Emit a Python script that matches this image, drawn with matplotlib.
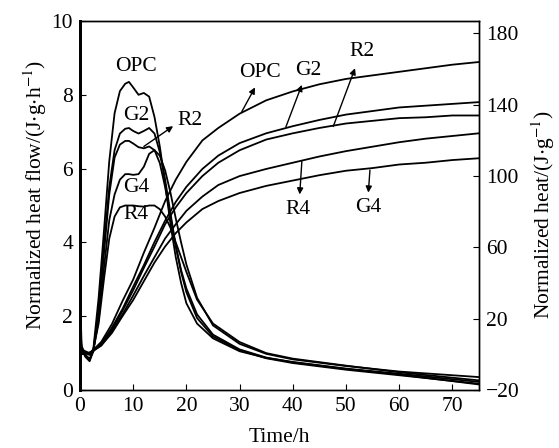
import matplotlib
matplotlib.use("Agg")
import matplotlib.pyplot as plt

plt.rcParams['font.family'] = ['Liberation Serif', 'DejaVu Serif']
plt.rcParams['mathtext.fontset'] = 'stix'

# heat flow, J/(g.h)  (left axis)
t_flow = [0, 0.3, 1, 1.8, 2.5, 3.5, 4.5, 5.5, 6.5, 7.5, 8.5, 9.2, 10, 11, 12, 13, 14,
          15, 16, 17, 18, 19, 20, 22, 25, 30, 35, 40, 50, 60, 75]
opc_flow = [2.7, 1.2, 0.95, 0.8, 1.1, 2.5, 4.3, 6.2, 7.5, 8.1, 8.3, 8.35, 8.2, 8.0, 8.05, 7.95, 7.4,
            6.6, 5.6, 4.5, 3.6, 2.9, 2.35, 1.8, 1.4, 1.05, 0.87, 0.76, 0.58, 0.44, 0.22]
g2_flow = [2.0, 1.1, 0.9, 0.78, 1.05, 2.2, 3.9, 5.5, 6.5, 6.95, 7.08, 7.1, 7.02, 6.95, 7.02, 7.1, 6.95,
           6.45, 5.7, 4.8, 3.9, 3.2, 2.65, 1.95, 1.45, 1.08, 0.86, 0.73, 0.55, 0.4, 0.17]
r2_flow = [1.8, 1.1, 0.95, 0.85, 1.05, 2.1, 3.7, 5.3, 6.3, 6.65, 6.75, 6.75, 6.68, 6.58, 6.55, 6.6, 6.5,
           6.15, 5.5, 4.7, 3.9, 3.25, 2.75, 2.05, 1.5, 1.1, 0.88, 0.75, 0.57, 0.42, 0.15]
g4_flow = [1.6, 1.1, 1.0, 0.95, 1.05, 1.9, 3.3, 4.6, 5.3, 5.7, 5.85, 5.85, 5.83, 5.85, 6.05, 6.4, 6.5,
           6.35, 5.95, 5.35, 4.65, 4.0, 3.4, 2.5, 1.75, 1.25, 0.98, 0.83, 0.65, 0.5, 0.35]
r4_flow = [1.5, 1.1, 1.05, 1.0, 1.1, 1.8, 3.0, 4.1, 4.7, 4.95, 5.0, 5.0, 5.0, 4.98, 4.97, 5.0, 5.0,
           4.9, 4.7, 4.4, 4.0, 3.6, 3.2, 2.45, 1.8, 1.3, 1.0, 0.85, 0.66, 0.48, 0.26]

# cumulative heat, J/g  (right axis)
t_heat = [0, 2, 4, 6, 8, 10, 12, 14, 16, 18, 20, 23, 26, 30, 35, 40, 45, 50, 55, 60, 65, 70, 75]
opc_heat = [0, 1, 7, 17, 30, 42, 57, 71, 86, 98, 108, 120, 127, 135, 142.5, 147.5, 151.5, 154.5,
            156.5, 158.5, 160.5, 162.5, 164]
g2_heat = [0, 1, 6, 15, 25.5, 38, 50, 63, 75, 85.5, 94, 104, 111.5, 118.5, 124, 128, 131.5, 134.5,
           136.5, 138.5, 139.5, 140.5, 141.5]
r2_heat = [0, 1, 6, 14, 24.5, 36, 48.5, 60.5, 73, 82.5, 90.5, 100, 107.5, 114.5, 120.5, 124, 127,
           129.5, 131, 132.5, 133, 134, 134]
r4_heat = [0, 1, 5, 13, 22.5, 33, 44, 54.5, 65, 73, 80.5, 88.5, 95, 100, 104, 107.5, 111, 114,
           116.5, 119, 121, 122.5, 124]
g4_heat = [0, 1, 5, 12, 21.5, 30.5, 41, 51.5, 60.5, 68, 74, 81.5, 86, 90.5, 94.5, 97.5, 100.5,
           103, 104.5, 106.5, 107.5, 109, 110]

x_ticks = [0, 10, 20, 30, 40, 50, 60, 70]
left_ticks = [0, 2, 4, 6, 8, 10]
right_ticks = [-20, 20, 60, 100, 140, 180]

fig = plt.figure(figsize=(5.59, 4.48), dpi=100)
ax = fig.add_axes([80 / 559, 1 - 390 / 448, 399 / 559, 369 / 448])
ax2 = ax.twinx()

lw = 1.3
for y in [opc_flow, g2_flow, r2_flow, g4_flow, r4_flow]:
    ax.plot(t_flow, y, color='k', lw=lw)
for y in [opc_heat, g2_heat, r2_heat, r4_heat, g4_heat]:
    ax2.plot(t_heat, y, color='k', lw=lw)

ax.set_xlim(0, 75)
ax.set_ylim(0, 10)
ax2.set_ylim(-20, 187)
ax.set_xticks(x_ticks)
ax.set_yticks(left_ticks)
ax2.set_yticks(right_ticks)

fs = 15.5
ax.tick_params(direction='in', length=4, labelsize=fs, pad=5, top=False)
ax2.tick_params(direction='in', length=4, labelsize=fs, pad=5)
for a in (ax, ax2):
    for s in a.spines.values():
        s.set_linewidth(1.0)
ax.spines['left'].set_linewidth(2.0)
ax2.spines['left'].set_linewidth(2.0)

fig.text(35 / 559, 1 - 195 / 448, 'Normalized heat flow/(J$\\cdot$g$\\cdot$h$^{-1}$)',
         rotation=90, ha='center', va='center', fontsize=fs)
fig.text(543 / 559, 1 - 215 / 448, 'Normalized heat/(J$\\cdot$g$^{-1}$)',
         rotation=90, ha='center', va='center', fontsize=fs)
fig.text(279.5 / 559, 6 / 448, 'Time/h', ha='center', va='baseline', fontsize=fs)

# peak labels
ax.text(10.6, 8.76, 'OPC', ha='center', va='center', fontsize=fs)
ax.text(10.6, 7.45, 'G2', ha='center', va='center', fontsize=fs)
ax.text(10.6, 5.5, 'G4', ha='center', va='center', fontsize=fs)
ax.text(10.6, 4.75, 'R4', ha='center', va='center', fontsize=fs)

arrow = dict(arrowstyle='-|>', color='k', lw=1.0, mutation_scale=9, shrinkA=0, shrinkB=0)
ax.annotate('', xy=(17.5, 7.15), xytext=(12.0, 6.6), arrowprops=arrow)
ax.text(20.7, 7.3, 'R2', ha='center', va='center', fontsize=fs)

# heat curve labels
ax.annotate('', xy=(32.9, 8.2), xytext=(30.4, 7.54), arrowprops=arrow)
ax.text(33.8, 8.6, 'OPC', ha='center', va='center', fontsize=fs)
ax.annotate('', xy=(41.7, 8.27), xytext=(38.7, 7.13), arrowprops=arrow)
ax.text(42.9, 8.67, 'G2', ha='center', va='center', fontsize=fs)
ax.annotate('', xy=(51.7, 8.72), xytext=(47.6, 7.14), arrowprops=arrow)
ax.text(53.0, 9.17, 'R2', ha='center', va='center', fontsize=fs)
ax.annotate('', xy=(41.3, 5.3), xytext=(41.7, 6.19), arrowprops=arrow)
ax.text(41.0, 4.9, 'R4', ha='center', va='center', fontsize=fs)
ax.annotate('', xy=(54.2, 5.35), xytext=(54.5, 5.96), arrowprops=arrow)
ax.text(54.2, 4.95, 'G4', ha='center', va='center', fontsize=fs)

fig.savefig('out.png', dpi=100)
